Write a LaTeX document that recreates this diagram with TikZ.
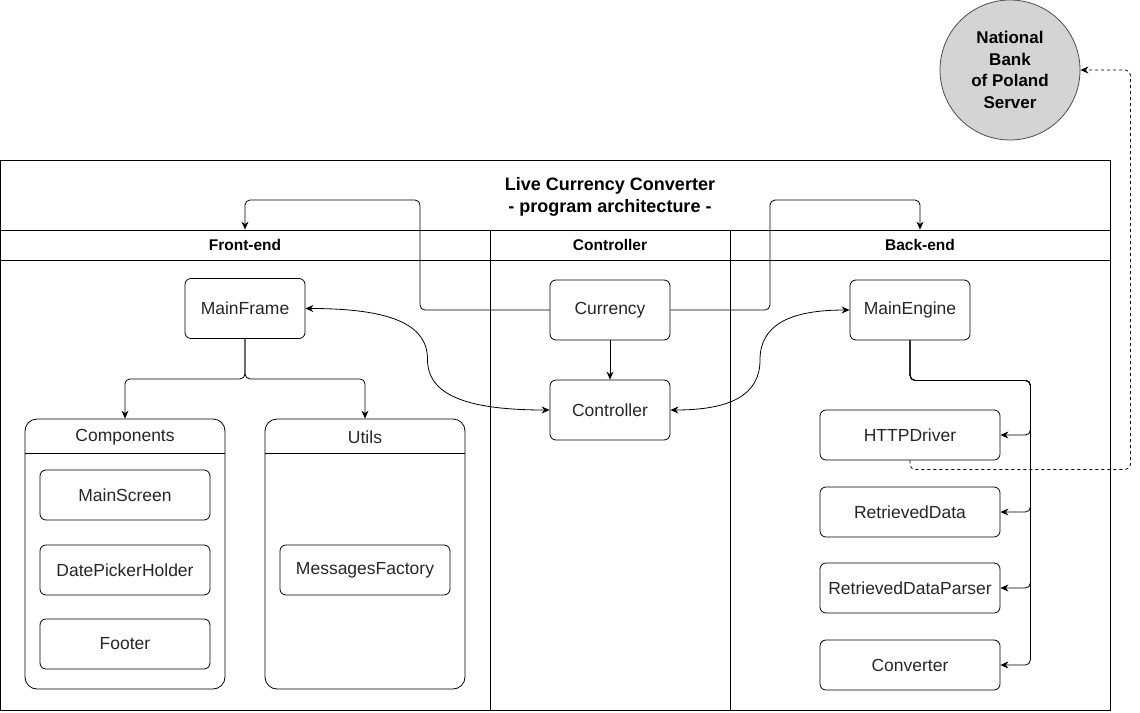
\documentclass[tikz,border=0pt]{standalone}
\usepackage{fontspec}
\setmainfont{Liberation Sans}
\usetikzlibrary{arrows.meta,calc}
\tikzset{%
  box/.style      = {shape=rectangle, rounded corners=6pt,%
                     draw, align=center, inner sep=2pt,%
                     minimum width=120pt, minimum height=60pt,%
                     text=black!85, font=\fontsize{17.5}{21}\selectfont},%
  subbox/.style   = {box, minimum width=170pt, minimum height=50pt},%
  backbox/.style  = {subbox, minimum width=180pt},%
  holder/.style   = {shape=rectangle, rounded corners=12pt, draw,%
                     minimum width=200pt, minimum height=270pt},%
  lanehead/.style = {draw, minimum height=30pt,%
                     font=\bfseries\fontsize{15.5}{18}\selectfont},%
  server/.style   = {circle, draw=black!70, fill=black!17, align=center,%
                     minimum size=140pt, inner sep=0pt,%
                     font=\bfseries\fontsize{17}{21.7}\selectfont}%
}
\begin{document}
\begin{tikzpicture}
[x=1pt,y=-1pt,line width=0.8pt,>={Stealth[length=8pt,width=7pt]}]
	\useasboundingbox (0,0) rectangle (1140,712);
	\draw (0,160) rectangle (1110,710);
	\draw (490,260) -- (490,710) (730,260) -- (730,710);
	\node at (610,197) [align=center,name=Title,font=\bfseries\fontsize{18}{22}\selectfont] {Live Currency Converter\\- program architecture -};
	\node at (245,245) [lanehead,minimum width=490pt,name=FrontH] {Front-end};
	\node at (610,245) [lanehead,minimum width=240pt,name=CtrlH] {Controller};
	\node at (920,245) [lanehead,minimum width=380pt,name=BackH] {Back-end};
	\node at (1010,70) [server,name=NBP] {National\\Bank\\of Poland\\Server};
	\node at (245,308.5) [box,name=MainFr] {MainFrame};
	\node at (610,310) [box,name=Curr] {Currency};
	\node at (610,410) [box,name=Ctrl] {Controller};
	\node at (910,310) [box,name=MainEng] {MainEngine};
	\node at (125,554) [holder,name=Comp] {};
	\node at (365,554) [holder,name=Utl] {};
	\draw ($(Comp.north west)+(0,35)$) -- ($(Comp.north east)+(0,35)$);
	\draw ($(Utl.north west)+(0,35)$) -- ($(Utl.north east)+(0,35)$);
	\node at ($(Comp.north)+(0,19)$) [text=black!85,font=\fontsize{17.5}{21}\selectfont,name=CompT] {Components};
	\node at ($(Utl.north)+(0,19)$) [text=black!85,font=\fontsize{17.5}{21}\selectfont,name=UtlT] {Utils};
	\node at (125,495) [subbox,name=MScr] {MainScreen};
	\node at (125,570) [subbox,name=DPick] {DatePickerHolder};
	\node at (125,644) [subbox,name=Foot] {Footer};
	\node at (365,570) [subbox,name=MsgF] {MessagesFactory};
	\node at (910,435) [backbox,name=HTTP] {HTTPDriver};
	\node at (910,512) [backbox,name=RData] {RetrievedData};
	\node at (910,588) [backbox,name=RParse] {RetrievedDataParser};
	\node at (910,665) [backbox,name=Conv] {Converter};
	\coordinate (midL) at ($(MainFr.east)!0.5!(Ctrl.west)$);
	\coordinate (midR) at ($(Ctrl.east)!0.5!(MainEng.west)$);
	\draw [->,rounded corners=5pt] (Curr.west) -| (420,200) -| (FrontH.north);
	\draw [->,rounded corners=5pt] (Curr.east) -| (770,200) -| (BackH.north);
	\draw [->] (Curr) -- (Ctrl);
	\draw [<->] (MainFr.east) .. controls +(85,0) and +(0,-35) .. (midL) .. controls +(0,35) and +(-85,0) .. (Ctrl.west);
	\draw [<->] (Ctrl.east) .. controls +(60,0) and +(0,35) .. (midR) .. controls +(0,-35) and +(-60,0) .. (MainEng.west);
	\draw [->,rounded corners=5pt] (MainFr.south) -- ++(0,40) -| (Comp.north);
	\draw [->,rounded corners=5pt] (MainFr.south) -- ++(0,40) -| (Utl.north);
	\foreach \b in {HTTP,RData,RParse,Conv}
		\draw [->,rounded corners=5pt] (MainEng.south) -- ++(0,40) -| ($(\b.east)+(30,0)$) -- (\b.east);
	\draw [->,dashed,rounded corners=5pt] (HTTP.south) -- ++(0,9) -| ($(NBP.east)+(50,0)$) -- (NBP.east);
\end{tikzpicture}
\end{document}
